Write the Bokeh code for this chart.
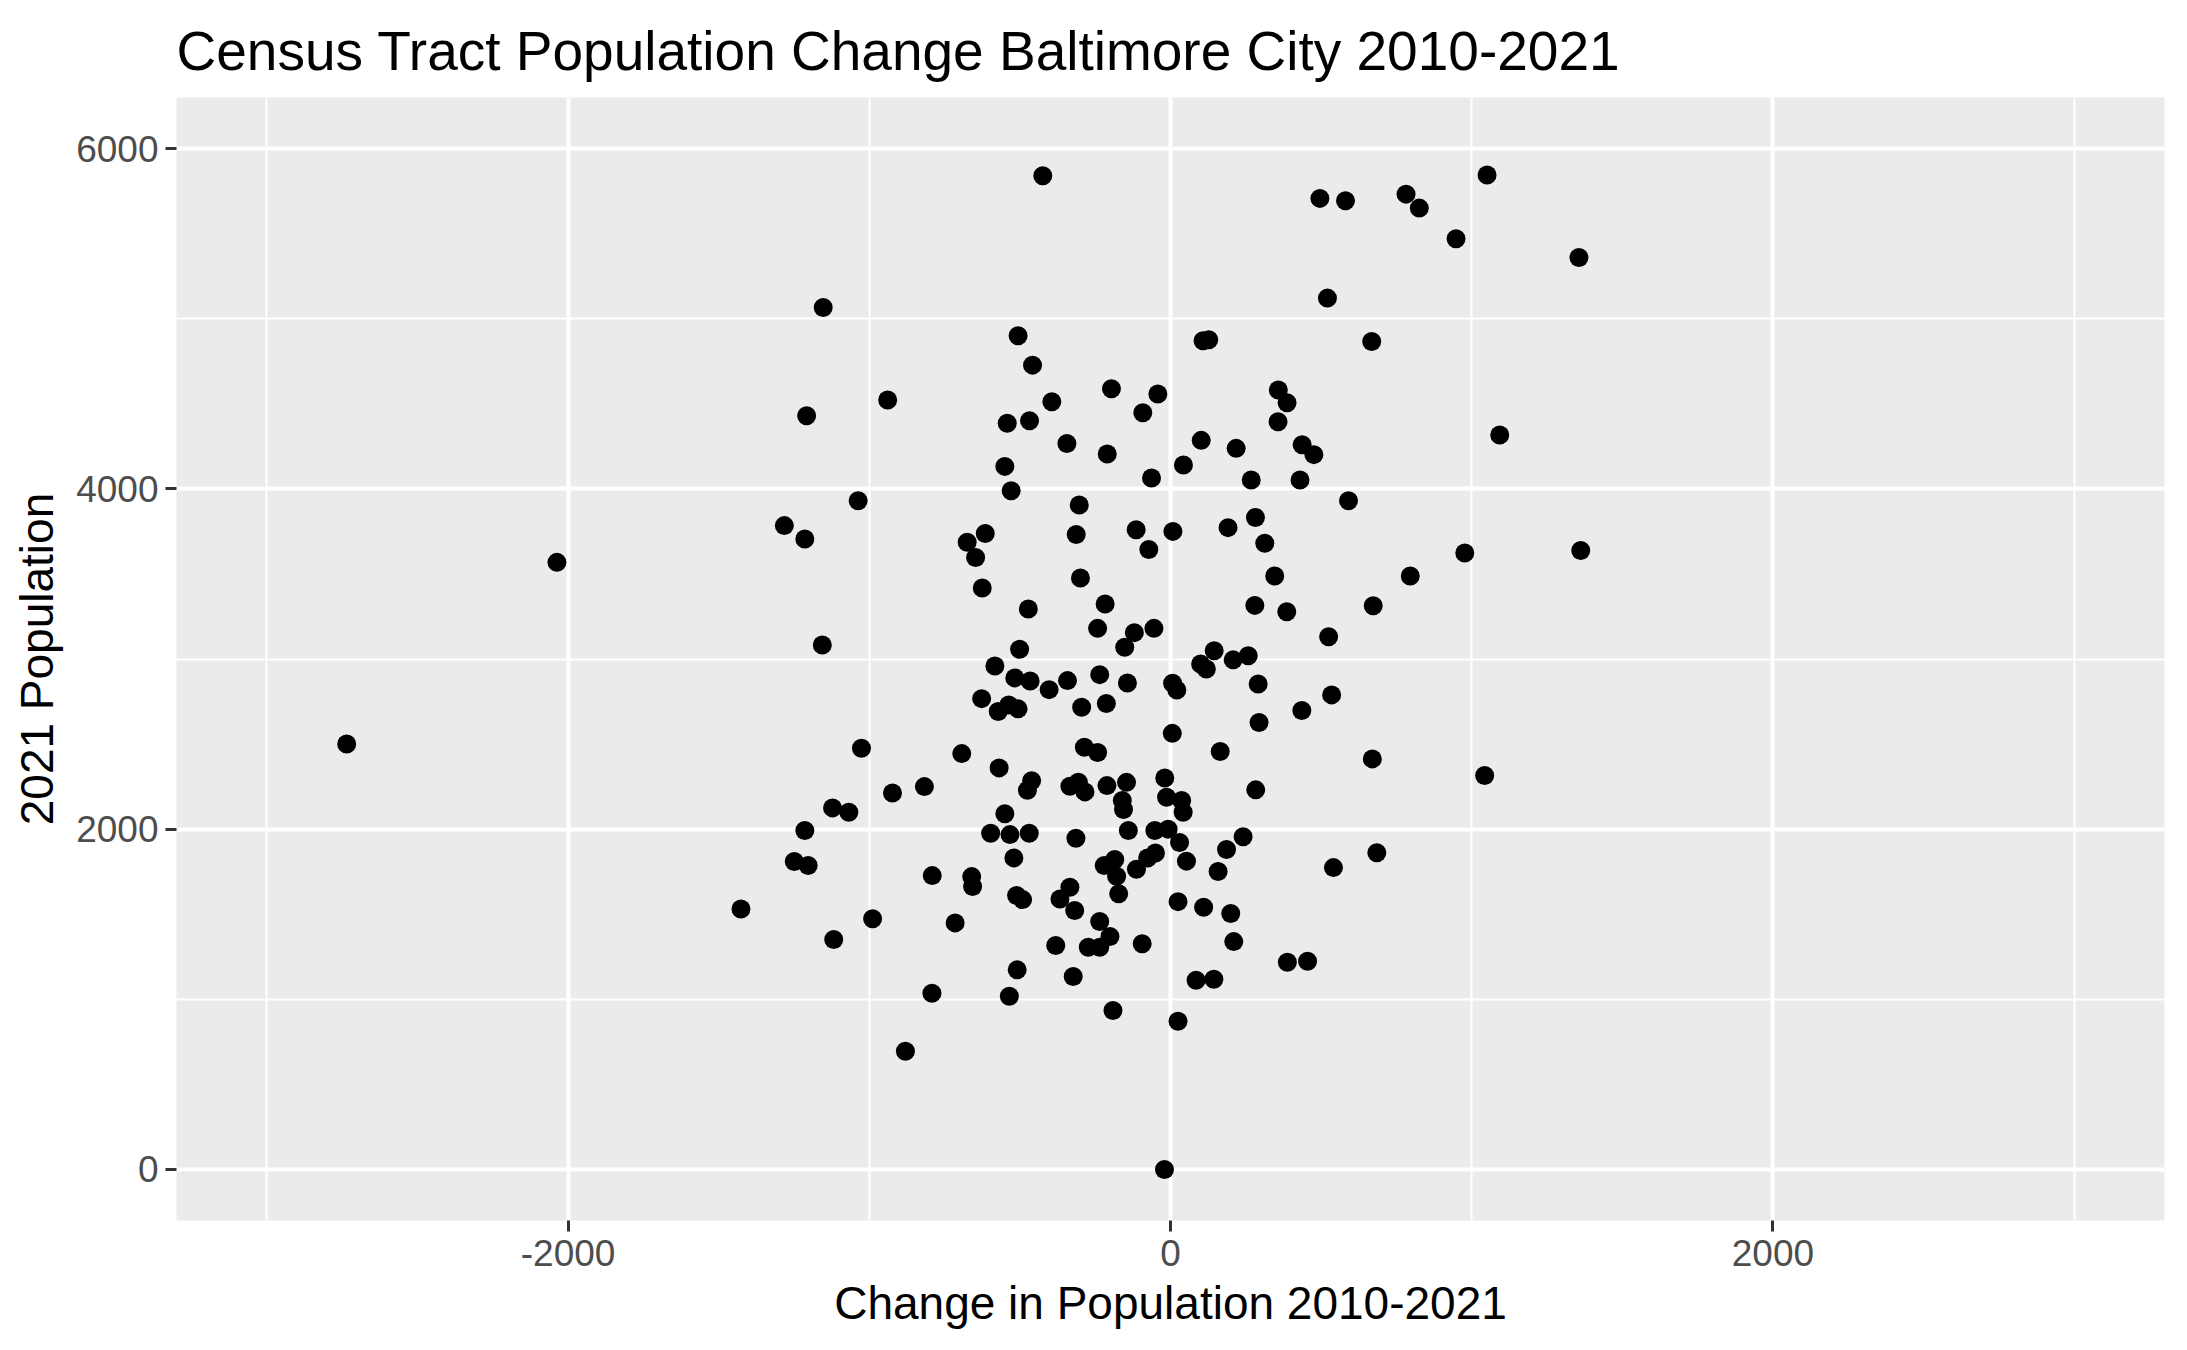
from bokeh.plotting import figure
from bokeh.models import Range1d, FixedTicker, ColumnDataSource
from bokeh.embed import file_html
from bokeh.resources import INLINE

title_text = "Census Tract Population Change Baltimore City 2010-2021"
x_label = "Change in Population 2010-2021"
y_label = "2021 Population"

x_ticks = [-2000, 0, 2000]
x_minor = [-3000, -1000, 1000, 3000]
y_ticks = [0, 2000, 4000, 6000]
y_minor = [1000, 3000, 5000]

change = [
    -424, -1153, -506, -458, -196, -42, -394, -939, -1208, -542,
    -468, -92, -344, -210, -550, 43, -63, -529, -1037, -303,
    -1214, -675, -615, -647, -625, -313, -114, 8, -72, -299,
    -217, -472, -242, -120, -55, -152, -1156, -501, -583, -517,
    -466, -403, -342, -235, -143, 7, 21, 100, -627, -572,
    -537, -506, -295, -213, 6, -286, -242, -1026, -693, -569,
    -461, -475, -334, -306, -284, -211, -146, -19, -13, 37,
    42, -160, -156, -923, -817, -1122, -1068, -1214, -550, -597,
    -533, -469, -314, -140, -52, -8, 30,
    -1203, -520, -791, -660, -657, -511, -491, -989, -1118, -715,
    -367, -334, -318, -220, -185, -179, -172, -113, -76, -50,
    53, 25, 110, -235, -201, -273, -235, -381, -94, -509,
    -323, -792, -535, -191, 25, 85, -880, -20,
    1051, 496, 581, 782, 826, 948, 1356, 521, 127, 108,
    668, 358, 387, 357, 102, 218, 437, 476, 1093, 268,
    430, 591, 282,
    191, 313, 977, 1362, 346, 796, 280, 386, 673, 525,
    145, 208, 258, 119, 291, 535, 436, 294, 165, 670,
    1043, 283, 241, 186,
    158, 541, 685, 200, 210, 388, 455, 144,
    -2037, -1282, -2735, -1249, -1426,
]

pop2021 = [
    5840, 5066, 4900, 4727, 4588, 4557, 4512, 4522, 4430, 4385,
    4400, 4447, 4267, 4205, 4132, 4140, 4064, 3989, 3930, 3905,
    3705, 3686, 3738, 3597, 3417, 3732, 3760, 3750, 3644, 3476,
    3323, 3294, 3180, 3155, 3180, 3069, 3082, 3057, 2959, 2889,
    2871, 2820, 2873, 2908, 2859, 2857, 2818, 2971, 2767, 2691,
    2730, 2707, 2716, 2738, 2563, 2481, 2450, 2475, 2444, 2360,
    2284, 2229, 2252, 2276, 2219, 2256, 2275, 2301, 2187, 2168,
    2099, 2168, 2115, 2213, 2250, 2125, 2099, 1992, 2090, 1976,
    1968, 1976, 1946, 1992, 1992, 2000, 1922,
    1786, 1831, 1727, 1721, 1663, 1610, 1586, 1473, 1351, 1449,
    1590, 1659, 1522, 1786, 1822, 1723, 1620, 1764, 1830, 1860,
    1812, 1574, 1541, 1457, 1369, 1306, 1306, 1316, 1326, 1173,
    1134, 1036, 1018, 934, 871, 1112, 695, 0,
    5844, 5707, 5693, 5732, 5650, 5470, 5360, 5121, 4876, 4870,
    4866, 4581, 4506, 4394, 4285, 4238, 4259, 4201, 4316, 4052,
    4052, 3930, 3832,
    3772, 3680, 3623, 3638, 3488, 3488, 3315, 3278, 3313, 3131,
    3049, 2995, 3019, 2941, 2853, 2789, 2697, 2627, 2456, 2413,
    2315, 2231, 1955, 1880,
    1751, 1774, 1861, 1504, 1339, 1218, 1224, 1118,
    3568, 3784, 2500, 1810, 1531,
]

FONT = "Liberation Sans"

source = ColumnDataSource(data=dict(x=change, y=pop2021))

p = figure(
    width=2187, height=1350,
    x_range=Range1d(-3300, 3300), y_range=Range1d(-300, 6300),
    output_backend="svg", toolbar_location=None,
    background_fill_color="#EBEBEB", border_fill_color="white",
    outline_line_color=None,
    min_border_left=176, min_border_right=23,
    min_border_top=97, min_border_bottom=130,
)

p.title.text = title_text
p.title.text_font = FONT
p.title.text_font_size = "55px"
p.title.text_font_style = "normal"
p.title.text_color = "black"
p.title.align = "left"
p.title.standoff = 31

p.scatter(x="x", y="y", source=source, size=19, color="black", line_color=None)

p.xaxis.ticker = FixedTicker(ticks=x_ticks, minor_ticks=x_minor)
p.yaxis.ticker = FixedTicker(ticks=y_ticks, minor_ticks=y_minor)
p.xaxis.major_label_overrides = {t: str(t) for t in x_ticks}
p.yaxis.major_label_overrides = {t: str(t) for t in y_ticks}
p.xaxis.axis_label = x_label
p.yaxis.axis_label = y_label

for ax in (p.xaxis[0], p.yaxis[0]):
    ax.axis_line_color = None
    ax.major_tick_line_color = "#333333"
    ax.major_tick_line_width = 3
    ax.major_tick_out = 11
    ax.major_tick_in = 0
    ax.minor_tick_line_color = None
    ax.major_label_text_font = FONT
    ax.major_label_text_font_size = "37px"
    ax.major_label_text_color = "#4D4D4D"
    ax.axis_label_text_font = FONT
    ax.axis_label_text_font_size = "46px"
    ax.axis_label_text_font_style = "normal"
    ax.axis_label_text_color = "black"

p.xaxis.major_label_standoff = 8
p.yaxis.major_label_standoff = 7
p.xaxis.axis_label_standoff = 8
p.yaxis.axis_label_standoff = 10

for g in (p.xgrid[0], p.ygrid[0]):
    g.grid_line_color = "white"
    g.grid_line_width = 4
    g.minor_grid_line_color = "white"
    g.minor_grid_line_width = 2

open("out.html", "w").write(file_html(p, INLINE))
